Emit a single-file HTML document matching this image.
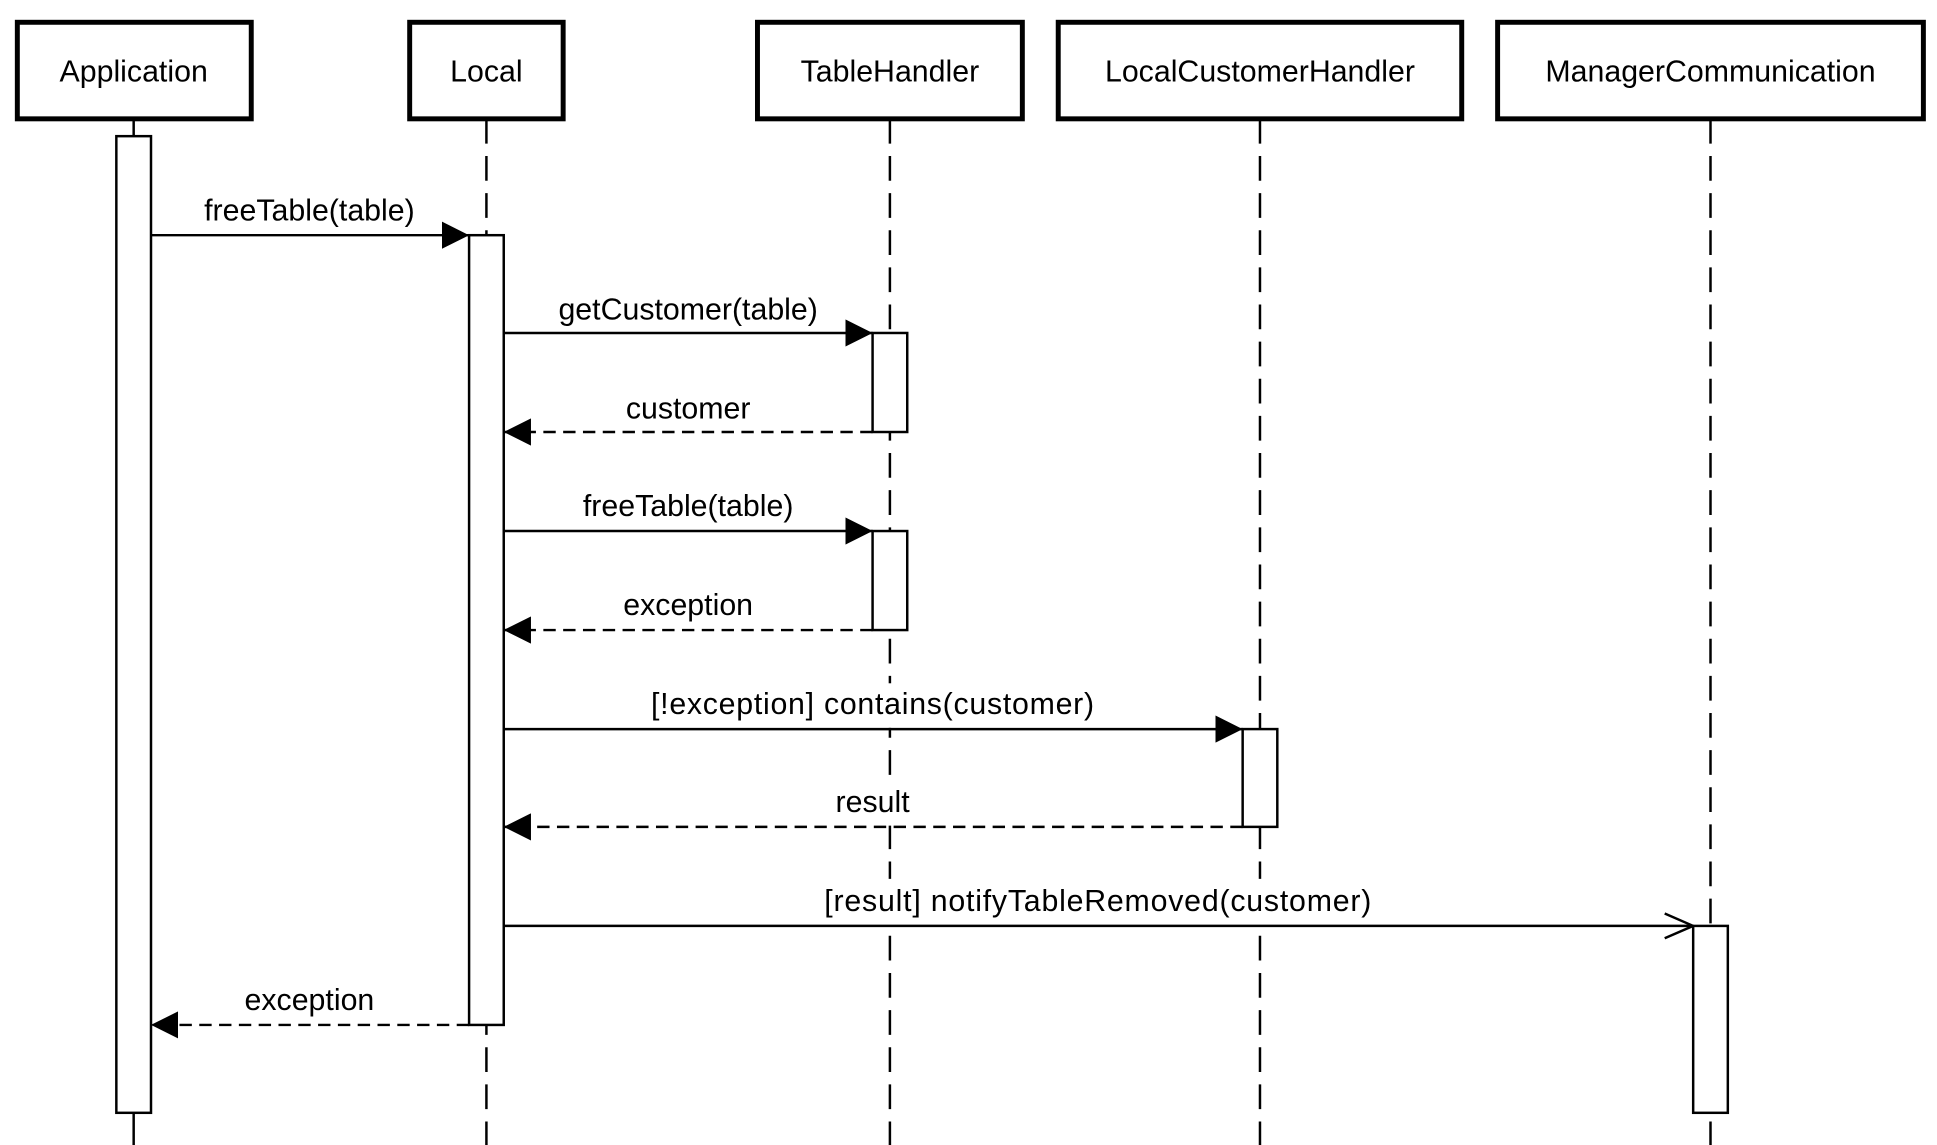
<!DOCTYPE html>
<html><head><meta charset="utf-8"><style>html,body{margin:0;padding:0;background:#fff}svg{display:block}</style></head><body>
<svg width="1937" height="1145" viewBox="0 0 1565 925" preserveAspectRatio="none" xmlns="http://www.w3.org/2000/svg" font-family="Liberation Sans, sans-serif" font-size="24.5">
<defs>
<marker id="f" markerWidth="24" markerHeight="22" refX="22" refY="11" orient="auto" markerUnits="userSpaceOnUse"><path d="M0,0 L22,11 L0,22 Z" fill="#000"/></marker>
<marker id="o" markerWidth="26" markerHeight="24" refX="24" refY="12" orient="auto" markerUnits="userSpaceOnUse"><path d="M1,2 L24,12 L1,22" fill="none" stroke="#000" stroke-width="2"/></marker>
</defs>
<g stroke="#000" stroke-width="2" stroke-dasharray="20,10" fill="none">
<line x1="108" y1="96" x2="108" y2="925" stroke-dasharray="none"/>
<line x1="393" y1="96" x2="393" y2="925"/>
<line x1="719" y1="96" x2="719" y2="925"/>
<line x1="1018" y1="96" x2="1018" y2="925"/>
<line x1="1382" y1="96" x2="1382" y2="925"/>
</g>
<rect x="524" y="552" width="363" height="36" fill="#ffffff" stroke="none"/>
<rect x="672" y="631" width="67" height="36" fill="#ffffff" stroke="none"/>
<rect x="664" y="710" width="447" height="37" fill="#ffffff" stroke="none"/>
<g stroke="#000" stroke-width="4" fill="#fff">
<rect x="14" y="18" width="189" height="78"/>
<rect x="331" y="18" width="124" height="78"/>
<rect x="612" y="18" width="214" height="78"/>
<rect x="855" y="18" width="326" height="78"/>
<rect x="1210" y="18" width="344" height="78"/>
</g>
<g text-anchor="middle" fill="#000">
<text x="108" y="66">Application</text>
<text x="393" y="66">Local</text>
<text x="719" y="66">TableHandler</text>
<text x="1018" y="66">LocalCustomerHandler</text>
<text x="1382" y="66">ManagerCommunication</text>
</g>
<g stroke="#000" stroke-width="2" fill="#fff">
<rect x="94" y="110" width="28" height="789"/>
<rect x="379" y="190" width="28" height="638"/>
<rect x="705" y="269" width="28" height="80"/>
<rect x="705" y="429" width="28" height="80"/>
<rect x="1004" y="589" width="28" height="79"/>
<rect x="1368" y="748" width="28" height="151"/>
</g>
<g stroke="#000" stroke-width="2">
<line x1="122" y1="190" x2="379" y2="190" marker-end="url(#f)"/>
<line x1="407" y1="269" x2="705" y2="269" marker-end="url(#f)"/>
<line x1="705" y1="349" x2="407" y2="349" stroke-dasharray="10,6" marker-end="url(#f)"/>
<line x1="407" y1="429" x2="705" y2="429" marker-end="url(#f)"/>
<line x1="705" y1="509" x2="407" y2="509" stroke-dasharray="10,6" marker-end="url(#f)"/>
<line x1="407" y1="589" x2="1004" y2="589" marker-end="url(#f)"/>
<line x1="1004" y1="668" x2="407" y2="668" stroke-dasharray="10,6" marker-end="url(#f)"/>
<line x1="407" y1="748" x2="1368" y2="748" marker-end="url(#o)"/>
<line x1="379" y1="828" x2="122" y2="828" stroke-dasharray="10,6" marker-end="url(#f)"/>
</g>
<g text-anchor="middle" fill="#000">
<text x="250" y="178">freeTable(table)</text>
<text x="556" y="258">getCustomer(table)</text>
<text x="556" y="338">customer</text>
<text x="556" y="417">freeTable(table)</text>
<text x="556" y="497">exception</text>
<text x="705" y="577" textLength="358">[!exception] contains(customer)</text>
<text x="705" y="656">result</text>
<text x="887" y="736" textLength="442">[result] notifyTableRemoved(customer)</text>
<text x="250" y="816">exception</text>
</g>
</svg>
</body></html>
